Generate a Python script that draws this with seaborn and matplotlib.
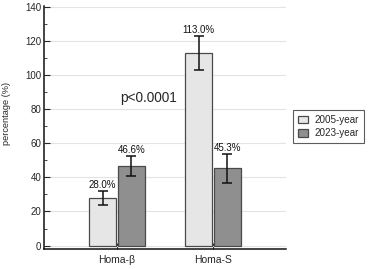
import matplotlib
matplotlib.use('Agg')
import matplotlib.pyplot as plt
from matplotlib.ticker import MultipleLocator
import pandas as pd
import seaborn as sns

# data
groups = ['Homa-β', 'Homa-S']
years = ['2005-year', '2023-year']
values_2005 = [28.0, 113.0]
values_2023 = [46.6, 45.3]
err_2005 = [4.2, 10.0]
err_2023 = [6.1, 8.4]
p_text = 'p<0.0001'

df = pd.DataFrame({
    'group': groups * 2,
    'year': [years[0]] * 2 + [years[1]] * 2,
    'value': values_2005 + values_2023,
})
errs = {years[0]: err_2005, years[1]: err_2023}

sns.set_style('white')
plt.rcParams['font.family'] = ['Liberation Sans', 'DejaVu Sans']

fig = plt.figure(figsize=(3.74, 2.69), dpi=100)
ax = fig.add_axes([44 / 374, 20 / 269, 242 / 374, 243 / 269])

sns.barplot(data=df, x='group', y='value', hue='year', order=groups,
            hue_order=years, palette=['#e6e6e6', '#8f8f8f'],
            edgecolor='#4a4a4a', linewidth=0.9, errorbar=None,
            width=0.6, gap=0.07, ax=ax, zorder=2)

for cont, yr in zip(ax.containers, years):
    for bar, e in zip(cont, errs[yr]):
        cx = bar.get_x() + bar.get_width() / 2
        h = bar.get_height()
        ax.errorbar(cx, h, yerr=e, fmt='none', ecolor='#111111',
                    elinewidth=1.1, capsize=3.3, capthick=1.1, zorder=3)
        ax.annotate(f'{h:.1f}%', (cx, h + e), xytext=(0, 0.6),
                    textcoords='offset points', ha='center', va='bottom',
                    fontsize=7, color='#111111')

# p-value text, placed in figure coordinates
fig.text(149 / 374, 1 - 98 / 269, p_text, fontsize=9.8, ha='center', va='center')

ax.set_xlim(-0.76, 1.76)
ax.set_ylim(-2, 140.3)
ax.yaxis.set_major_locator(MultipleLocator(20))
ax.yaxis.set_minor_locator(MultipleLocator(10))
ax.grid(axis='y', which='major', color='#e3e3e3', linewidth=0.8, zorder=0)
ax.set_axisbelow(True)
ax.tick_params(axis='y', which='major', direction='in', length=4, width=0.8,
               labelsize=7, pad=2, left=True)
ax.tick_params(axis='y', which='minor', direction='in', length=2, width=0.6, left=True)
ax.tick_params(axis='x', direction='in', length=4, width=0.8, labelsize=7.5,
               pad=4, bottom=True)
sns.despine(ax=ax)
for s in ['left', 'bottom']:
    ax.spines[s].set_color('#111111')
    ax.spines[s].set_linewidth(1.1)

ax.set_xlabel('')
ax.set_ylabel('percentage (%)', fontsize=6.6)
ax.yaxis.set_label_coords(-0.135, 0.556)

ax.legend(loc='upper left', bbox_to_anchor=(293 / 374, 1 - 110 / 269),
          bbox_transform=fig.transFigure, borderaxespad=0, fontsize=7.1,
          frameon=True, fancybox=False, edgecolor='#333333',
          handlelength=1.0, handleheight=0.8, handletextpad=0.7,
          borderpad=0.5, labelspacing=0.35, title=None)
ax.get_legend().get_frame().set_linewidth(0.8)

plt.savefig('out.png', dpi=100)
